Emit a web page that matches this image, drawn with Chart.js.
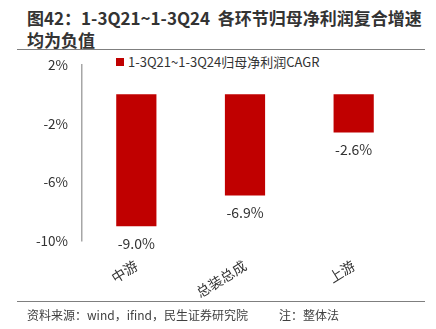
<!DOCTYPE html>
<html>
<head>
<meta charset="utf-8">
<script src="https://cdn.jsdelivr.net/npm/chart.js@4/dist/chart.umd.min.js"></script>
<style>
  body { margin: 0; background: #fff; font-family: "Noto Sans CJK SC", sans-serif; }
  #wrap { position: relative; width: 436px; height: 329px; overflow: hidden; }
  #chart { position: absolute; left: 0; top: 0; }
  .title { position: absolute; left: 27px; top: 7px; font-size: 17px; font-weight: bold; line-height: 22px; color: #333; }
  .rule { position: absolute; left: 17px; width: 408px; height: 0; border-top: 1.5px solid #7f7f7f; }
  .legend { position: absolute; left: 116px; top: 53px; font-size: 13px; color: #333; line-height: 18px; }
  .legend i { display: inline-block; width: 8px; height: 8px; background: #C00000; margin-right: 4px; vertical-align: 1px; }
  .foot { position: absolute; top: 306px; font-size: 12px; color: #404040; line-height: 18px; }
</style>
</head>
<body>
<div id="wrap">
  <div class="title">图42：1-3Q21~1-3Q24&nbsp; 各环节归母净利润复合增速<br>均为负值</div>
  <div class="rule" style="top:49px"></div>
  <div class="legend" id="legend"></div>
  <canvas id="chart" width="436" height="329"></canvas>
  <div class="rule" style="top:301px"></div>
  <div class="foot" style="left:27px">资料来源：wind，ifind，民生证券研究院</div>
  <div class="foot" style="left:279px">注：整体法</div>
</div>
<script>
const categories = ['中游', '总装总成', '上游'];
const cagr = [-9.0, -6.9, -2.6];
const seriesName = '1-3Q21~1-3Q24归母净利润CAGR';
const yTicks = [2, -2, -6, -10];

const barColor = '#C00000';
document.getElementById('legend').innerHTML = '<i></i>' + seriesName;

// value labels under each bar
const valueLabels = {
    id: 'valueLabels',
    afterDatasetsDraw(chart) {
        const ctx = chart.ctx;
        const meta = chart.getDatasetMeta(0);
        ctx.save();
        ctx.font = '14px "Noto Sans CJK SC"';
        ctx.fillStyle = '#333';
        ctx.textAlign = 'center';
        ctx.textBaseline = 'middle';
        meta.data.forEach((bar, i) => {
            ctx.fillText(cagr[i].toFixed(1) + '%', bar.x, bar.y + 17);
        });
        ctx.restore();
    }
};

const ctx = document.getElementById('chart').getContext('2d');
new Chart(ctx, {
    type: 'bar',
    data: {
        labels: categories,
        datasets: [{
            label: seriesName,
            data: cagr,
            backgroundColor: barColor,
            barPercentage: 0.37,
            categoryPercentage: 1
        }]
    },
    options: {
        responsive: false,
        animation: false,
        layout: { padding: { top: 65, right: 28, bottom: 0, left: 0 } },
        plugins: { legend: { display: false }, tooltip: { enabled: false } },
        scales: {
            y: {
                min: -10,
                max: 2,
                afterBuildTicks: (scale) => { scale.ticks = yTicks.map(v => ({ value: v })); },
                afterFit: (scale) => { scale.width = 82; },
                ticks: {
                    padding: 14,
                    color: '#333',
                    font: { size: 13.5, family: '"Noto Sans CJK SC"' },
                    callback: (v) => v + '%'
                },
                grid: {
                    drawTicks: false,
                    lineWidth: 1.5,
                    color: (c) => c.tick && c.tick.value === 0 ? '#A6A6A6' : 'rgba(0,0,0,0)'
                },
                border: { color: '#A6A6A6', width: 1.5 }
            },
            x: {
                afterFit: (scale) => { scale.height = 88; },
                grid: { display: false },
                border: { display: false },
                ticks: {
                    minRotation: 32,
                    maxRotation: 32,
                    padding: 8,
                    color: '#333',
                    font: { size: 14, family: '"Noto Sans CJK SC"' }
                }
            }
        }
    },
    plugins: [valueLabels]
});
</script>
</body>
</html>
